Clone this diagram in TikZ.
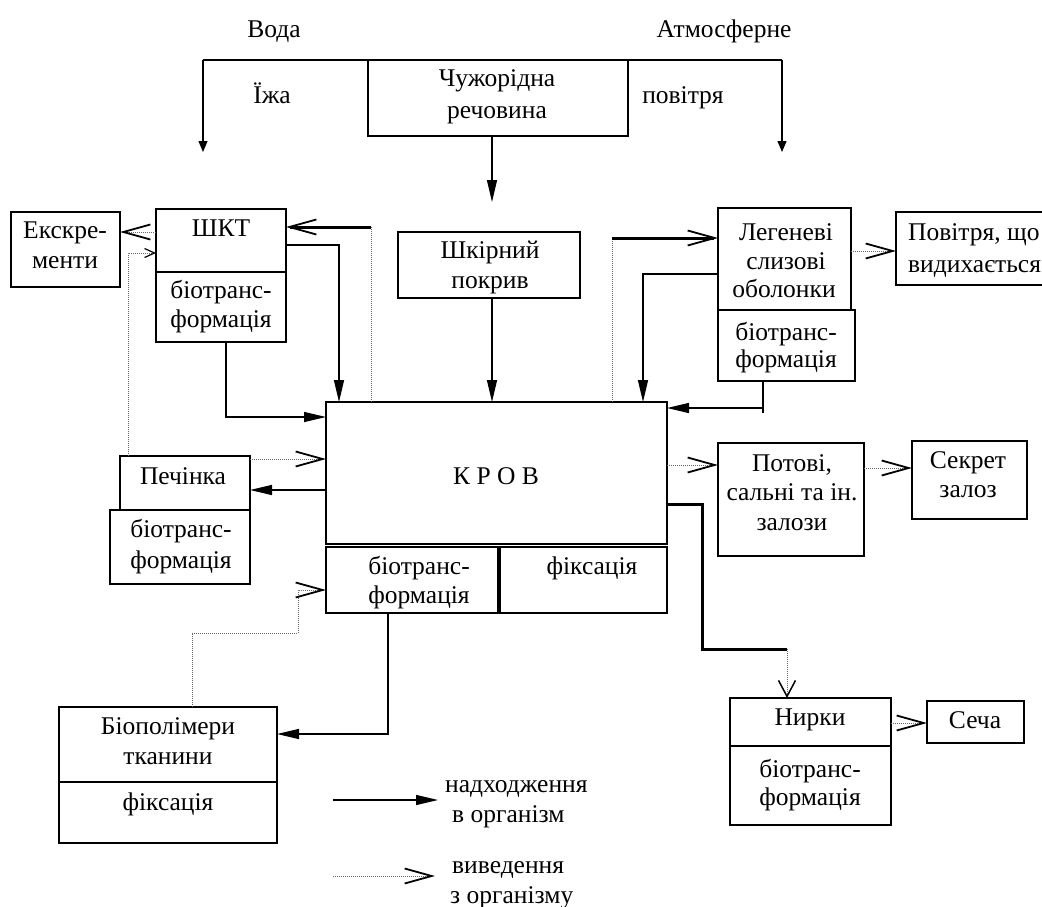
\documentclass[tikz,border=0pt]{standalone}
\usepackage{fontspec}
\setmainfont{Liberation Serif}
\usetikzlibrary{arrows.meta}
\tikzset{
  box/.style={draw, line width=1.9pt, inner sep=0pt, outer sep=0pt},
  txt/.style={font=\fontsize{25.5}{29}\selectfont, inner sep=0pt, anchor=base},
  txtw/.style={txt, anchor=base west},
  ln/.style={line width=1.4pt},
  thk/.style={line width=3pt},
  dot/.style={line width=1pt, black!60, dash pattern=on 1pt off 1pt},
  fa/.style={-{Triangle[length=22pt,width=10pt]}},
  fas/.style={-{Triangle[length=11pt,width=9pt]}},
  oa/.style={-{Straight Barb[length=27pt,width=15pt,line width=1.8pt,black]}},
  oam/.style={-{Straight Barb[length=16pt,width=17pt,line width=1.5pt,black]}},
  oas/.style={-{Straight Barb[length=10pt,width=9pt,line width=1.2pt,black]}},
}
\begin{document}
\begin{tikzpicture}[x=1pt,y=-1pt]
\useasboundingbox (0,0) rectangle (1042,907);

% ---------- boxes ----------
\node[box, line width=1.3pt, minimum width=260pt, minimum height=76pt] (chuzh) at (498,98) {};
\node[box, minimum width=109pt, minimum height=75pt] (eks) at (65.5,249.5) {};
\node[box, minimum width=130pt, minimum height=63pt] (shkt) at (221,240.5) {};
\node[box, minimum width=130pt, minimum height=70pt] (shktbio) at (221,307) {};
\node[box, minimum width=182pt, minimum height=66pt] (shkir) at (489,265) {};
\node[box, minimum width=133pt, minimum height=102pt] (leg) at (784.5,259) {};
\node[box, minimum width=137pt, minimum height=71pt] (legbio) at (786.5,345.5) {};
\node[box, minimum width=164pt, minimum height=73pt] (povitrya) at (978,248.5) {};
\node[box, minimum width=341pt, minimum height=142pt] (krov) at (496.5,473) {};
\node[box, minimum width=172pt, minimum height=66pt] (krovbio) at (412,580) {};
\node[box, minimum width=167pt, minimum height=66pt] (krovfix) at (583.5,580) {};
\node[box, minimum width=146pt, minimum height=113pt] (potovi) at (791,499.5) {};
\node[box, minimum width=115pt, minimum height=78pt] (sekret) at (969.5,480) {};
\node[box, minimum width=130pt, minimum height=54pt] (pechinka) at (185,483) {};
\node[box, minimum width=140pt, minimum height=74pt] (pechbio) at (180,547) {};
\node[box, minimum width=218pt, minimum height=75pt] (biopol) at (168,744.5) {};
\node[box, minimum width=218pt, minimum height=61pt] (biofix) at (168,812.5) {};
\node[box, minimum width=161pt, minimum height=48pt] (nyrky) at (810.5,722) {};
\node[box, minimum width=161pt, minimum height=79pt] (nyrkybio) at (810.5,785.5) {};
\node[box, minimum width=97pt, minimum height=42pt] (secha) at (975.5,722) {};

% ---------- texts ----------
\node[txt] (tvoda) at (274,38) {Вода};
\node[txt] (tatm) at (724,38) {Атмосферне};
\node[txt] (tizha) at (272,103) {Їжа};
\node[txt] (tpov) at (683,103) {повітря};
\node[txt] (tch1) at (497,87) {Чужорідна};
\node[txt] (tch2) at (497,118) {речовина};
\node[txt] (tek1) at (65,238) {Екскре-};
\node[txt] (tek2) at (65,268) {менти};
\node[txt] (tshkt) at (221,236) {ШКТ};
\node[txt] (tsb1) at (221,298) {біотранс-};
\node[txt] (tsb2) at (221,327) {формація};
\node[txt] (tsk1) at (490,258) {Шкірний};
\node[txt] (tsk2) at (490,288) {покрив};
\node[txt] (tl1) at (786,240) {Легеневі};
\node[txt] (tl2) at (786,269) {слизові};
\node[txt] (tl3) at (784,297) {оболонки};
\node[txt] (tlb1) at (786,340) {біотранс-};
\node[txt] (tlb2) at (786,367) {формація};
\node[txtw] (tpv1) at (908,240) {Повітря, що};
\node[txtw] (tpv2) at (908,272) {видихається};
\node[txt] (tkrov) at (496,484) {К Р О В};
\node[txt] (tkb1) at (419,574) {біотранс-};
\node[txt] (tkb2) at (419,603) {формація};
\node[txt] (tkf) at (592,574) {фіксація};
\node[txt] (tpt1) at (792,471) {Потові,};
\node[txt] (tpt2) at (792,500) {сальні та ін.};
\node[txt] (tpt3) at (792,530) {залози};
\node[txt] (tsc1) at (968,468) {Секрет};
\node[txt] (tsc2) at (968,497) {залоз};
\node[txt] (tpe) at (183,484) {Печінка};
\node[txt] (tpb1) at (181,537) {біотранс-};
\node[txt] (tpb2) at (181,568) {формація};
\node[txt] (tbp1) at (168,734) {Біополімери};
\node[txt] (tbp2) at (168,764) {тканини};
\node[txt] (tbf) at (168,810) {фіксація};
\node[txt] (tny) at (810,725) {Нирки};
\node[txt] (tnb1) at (810,777) {біотранс-};
\node[txt] (tnb2) at (810,805) {формація};
\node[txt] (tse) at (975,728) {Сеча};
\node[txtw] (tlg1) at (445,792) {надходження};
\node[txtw] (tlg2) at (452,822) {в організм};
\node[txtw] (tlg3) at (452,873) {виведення};
\node[txtw] (tlg4) at (450,903) {з організму};

% ---------- top connectors ----------
\coordinate (topL) at (203,60);
\coordinate (topR) at (782,60);
\coordinate (foodEnd) at (203,152);
\coordinate (airEnd) at (782,152);
\coordinate (chEnd) at (492,202);
\draw[ln, line width=1.2pt] (topL) -- (topR);
\draw[ln, line width=1.2pt, fas] (topL) -- (foodEnd);
\draw[ln, line width=1.2pt, fas] (topR) -- (airEnd);
\draw[ln, line width=1.2pt, fa] (chuzh.south -| chEnd) -- (chEnd);
\draw[ln, fa] (shkir.south -| chEnd) -- (krov.north -| chEnd);

% ---------- left side ----------
\coordinate (e1) at (0,232);
\draw[dot, oa] (shkt.west |- e1) -- (eks.east |- e1);
\coordinate (p1) at (128,253);
\draw[dot, oas] (pechinka.north -| p1) -- (p1) -- (shkt.west |- p1);
\coordinate (p2) at (371,227);
\draw[dot] (krov.north -| p2) -- (p2);
\draw[thk, oa] (p2) -- (shkt.east |- p2);
\coordinate (p3) at (339,245);
\draw[ln, fa] (shkt.east |- p3) -- (p3) -- (krov.north -| p3);
\coordinate (p4) at (226,417);
\draw[ln, fa] (shktbio.south -| p4) -- (p4) -- (krov.west |- p4);
\coordinate (p5) at (0,459);
\draw[dot, oa] (pechinka.east |- p5) -- (krov.west |- p5);
\coordinate (p6) at (0,490);
\draw[ln, fa] (krov.west |- p6) -- (pechinka.east |- p6);
\coordinate (p7) at (192,633);
\coordinate (p8) at (298,590);
\draw[dot, oa] (biopol.north -| p7) -- (p7) -- (p7 -| p8) -- (p8) -- (krovbio.west |- p8);
\coordinate (p9) at (388,734);
\draw[ln, fa] (krovbio.south -| p9) -- (p9) -- (biopol.east |- p9);

% ---------- right side ----------
\coordinate (p10) at (612,238);
\draw[dot] (krov.north -| p10) -- (p10);
\draw[thk, oa] (p10) -- (leg.west |- p10);
\coordinate (p11) at (643,274);
\draw[ln, fa] (leg.west |- p11) -- (p11) -- (krov.north -| p11);
\coordinate (p12) at (763,408);
\draw[ln] (legbio.south -| p12) -- ([yshift=-5pt]p12);
\draw[ln, fa] (p12) -- (krov.east |- p12);
\coordinate (p13) at (0,251);
\draw[dot, oa] (leg.east |- p13) -- (povitrya.west |- p13);
\coordinate (p14) at (0,465);
\draw[dot, oa] (krov.east |- p14) -- (potovi.west |- p14);
\coordinate (p15) at (0,468);
\draw[dot, oa] (potovi.east |- p15) -- (sekret.west |- p15);
\coordinate (p16) at (702,504);
\coordinate (p17) at (787,649);
\draw[thk, line join=miter] (krov.east |- p16) -- (p16) -- (p16 |- p17) -- (p17);
\draw[dot, oam] (p17) -- (nyrky.north -| p17);
\coordinate (p18) at (0,723);
\draw[dot, oa] (nyrky.east |- p18) -- (secha.west |- p18);

% ---------- legend ----------
\coordinate (l1) at (333,800);
\coordinate (l2) at (438,800);
\coordinate (l3) at (333,876);
\coordinate (l4) at (435,876);
\draw[ln, fa] (l1) -- (l2);
\draw[dot, oa] (l3) -- (l4);
\end{tikzpicture}
\end{document}
